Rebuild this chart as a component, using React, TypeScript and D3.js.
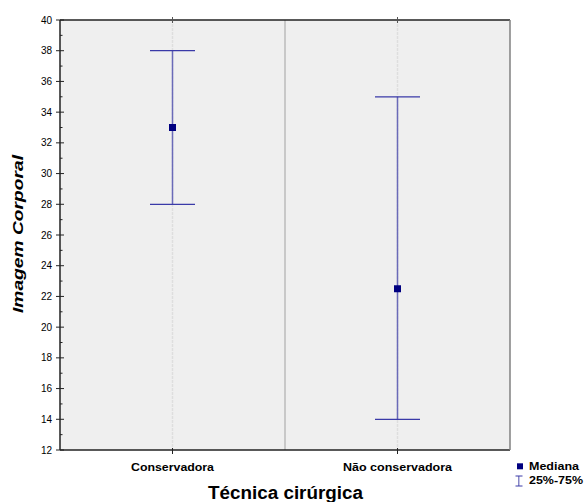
import React from "react";
import * as d3 from "d3";

const categories = ["Conservadora", "Não conservadora"];
const medians = [33, 22.5];
const q1 = [28, 14];
const q3 = [38, 35];
const yTicks = [12, 14, 16, 18, 20, 22, 24, 26, 28, 30, 32, 34, 36, 38, 40];
const yMinorTicks = [13, 15, 17, 19, 21, 23, 25, 27, 29, 31, 33, 35, 37, 39];

const W = 584, H = 502;
const L = 60, R = 510, T = 20, B = 450;

export default function App() {
  const x = d3.scaleBand<string>().domain(categories).range([L, R]).padding(0);
  const y = d3.scaleLinear().domain([12, 40]).range([B, T]);
  const bw = x.bandwidth();
  const font = "Arial, 'Liberation Sans', sans-serif";
  const capHalf = 22.5;
  const labelLen = [83, 109];
  return (
    <svg width={W} height={H} style={{ position: "absolute", left: 0, top: 0 }} fontFamily={font}>
      <rect x={0} y={0} width={W} height={H} fill="#fff" />
      <rect x={L} y={T} width={R - L} height={B - T} fill="#efefef" />
      {categories.map((c) => (
        <line key={c} x1={x(c)! + bw / 2} x2={x(c)! + bw / 2} y1={T} y2={B} stroke="#dedede" strokeWidth={1.5} strokeDasharray="3,1" />
      ))}
      {categories.slice(1).map((c) => (
        <line key={c} x1={x(c)!} x2={x(c)!} y1={T} y2={B} stroke="#c8c8c8" strokeWidth={2} />
      ))}
      {/* axes */}
      <line x1={L} x2={R} y1={T} y2={T} stroke="#222" strokeWidth={1.5} />
      <line x1={L} x2={R} y1={B} y2={B} stroke="#222" strokeWidth={1.5} />
      <line x1={L} x2={L} y1={T} y2={B} stroke="#222" strokeWidth={1.5} />
      <line x1={R} x2={R} y1={T} y2={B} stroke="#808080" strokeWidth={1.5} />
      {yTicks.map((t) => (
        <g key={t}>
          <line x1={L - 4} x2={L + 4} y1={y(t)} y2={y(t)} stroke="#222" strokeWidth={1} />
          <text x={L - 8} y={y(t) + 3.5} fontSize={10} textAnchor="end" fill="#000">{t}</text>
        </g>
      ))}
      {yMinorTicks.map((t) => (
        <line key={t} x1={L} x2={L + 2.5} y1={y(t)} y2={y(t)} stroke="#222" strokeWidth={1} />
      ))}
      {categories.map((c, i) => {
        const cx = x(c)! + bw / 2;
        return (
          <g key={c}>
            <line x1={cx} x2={cx} y1={B - 2} y2={B + 4} stroke="#222" strokeWidth={1} />
            <line x1={cx} x2={cx} y1={T - 3} y2={T + 3} stroke="#555" strokeWidth={1} />
            <text x={cx - labelLen[i] / 2} y={470.7} fontSize={11} fontWeight="bold" fill="#000" textLength={labelLen[i]} lengthAdjust="spacingAndGlyphs">{c}</text>
          </g>
        );
      })}
      {/* whiskers */}
      {categories.map((c, i) => {
        const cx = x(c)! + bw / 2;
        return (
          <g key={c}>
            <line x1={cx} x2={cx} y1={y(q3[i])} y2={y(q1[i])} stroke="#6a6ab8" strokeWidth={1.5} />
            <line x1={cx - capHalf} x2={cx + capHalf} y1={y(q3[i])} y2={y(q3[i])} stroke="#3a3aa8" strokeWidth={1.3} />
            <line x1={cx - capHalf} x2={cx + capHalf} y1={y(q1[i])} y2={y(q1[i])} stroke="#3a3aa8" strokeWidth={1.3} />
            <rect x={cx - 3.5} y={y(medians[i]) - 3.5} width={7} height={7} fill="#000080" />
          </g>
        );
      })}
      <text x={208} y={499} fontSize={18} fontWeight="bold" fill="#000" textLength={155} lengthAdjust="spacingAndGlyphs">Técnica cirúrgica</text>
      <text transform={`translate(22.5,313) rotate(-90)`} fontSize={14.5} fontWeight="bold" fontStyle="italic" fill="#000" textLength={158} lengthAdjust="spacingAndGlyphs">Imagem Corporal</text>
      {/* legend */}
      <rect x={517} y={463.3} width={6} height={6} fill="#000080" />
      <text x={529} y={470} fontSize={11.5} fontWeight="bold" fill="#000" textLength={50} lengthAdjust="spacingAndGlyphs">Mediana</text>
      <line x1={518.8} x2={518.8} y1={476} y2={486} stroke="#6a6ab8" strokeWidth={1.2} />
      <line x1={515.5} x2={522.5} y1={476} y2={476} stroke="#3a3aa8" strokeWidth={1} />
      <line x1={515.5} x2={522.5} y1={486} y2={486} stroke="#3a3aa8" strokeWidth={1} />
      <text x={529} y={484} fontSize={11.5} fontWeight="bold" fill="#000" textLength={54} lengthAdjust="spacingAndGlyphs">25%-75%</text>
    </svg>
  );
}
